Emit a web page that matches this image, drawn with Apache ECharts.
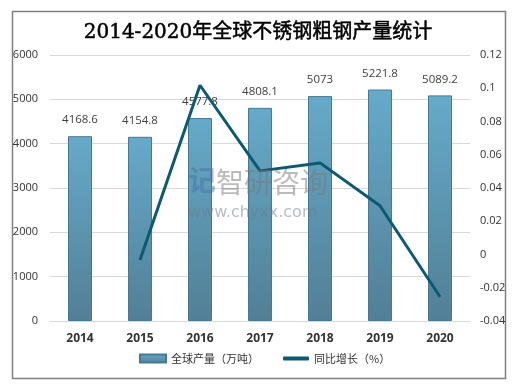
<!DOCTYPE html>
<html><head><meta charset="utf-8">
<script src="https://cdn.jsdelivr.net/npm/echarts@6/dist/echarts.min.js"></script>
<style>html,body{margin:0;padding:0;background:#fff}#c{width:516px;height:386px}</style>
</head><body><div id="c"></div>
<script>
var categories = ['2014','2015','2016','2017','2018','2019','2020'];
var production = [4168.6, 4154.8, 4577.8, 4808.1, 5073, 5221.8, 5089.2];
var growth = [null, -0.0033, 0.1018, 0.0503, 0.0551, 0.0293, -0.0254];
var leftTicks = [0, 1000, 2000, 3000, 4000, 5000, 6000];
var rightTicks = [-0.04, -0.02, 0, 0.02, 0.04, 0.06, 0.08, 0.1, 0.12];
var titleText = '2014-2020年全球不锈钢粗钢产量统计';
var seriesNames = ['全球产量（万吨）', '同比增长（%）'];

var legendText = {fontFamily: '"Noto Sans CJK SC"', fontSize: 11, color: '#333'};
var chart = echarts.init(document.getElementById('c'));
chart.setOption({
  animation: false,
  title: {
    text: titleText, left: 'center', top: 18,
    textStyle: {fontFamily: '"DejaVu Serif","Noto Sans CJK SC",serif', fontSize: 20, fontWeight: 'normal', color: '#000',
      textBorderColor: '#000', textBorderWidth: 0.5}
  },
  graphic: [
    {type: 'rect', shape: {x: 12.5, y: 11.5, width: 493, height: 367}, style: {fill: 'none', stroke: '#808080', lineWidth: 1.5}, silent: true},
    {type: 'text', left: 216, top: 168, style: {text: '智研咨询', fill: 'rgba(120,120,120,0.5)', font: '28px "Noto Sans CJK SC"'}, z: 100},
    {type: 'text', left: 188, top: 205, style: {text: 'www.chyxx.com', fill: 'rgba(110,120,140,0.5)', font: '16px "DejaVu Sans"'}, z: 100},
    {type: 'text', left: 188, top: 166, style: {text: '记', fill: 'rgba(70,110,160,0.45)', font: 'bold 28px "Noto Sans CJK SC"'}, z: 100}
  ],
  legend: [
    {left: 134, bottom: 17, itemWidth: 26, itemHeight: 8, textStyle: legendText,
     data: [{name: seriesNames[0], icon: 'rect'}]},
    {left: 278, bottom: 17, itemWidth: 26, itemHeight: 4, textStyle: legendText,
     data: [{name: seriesNames[1], icon: 'roundRect'}]}
  ],
  grid: {left: 50, right: 46, top: 55, bottom: 65},
  xAxis: {
    type: 'category', data: categories,
    axisLine: {lineStyle: {color: '#d9d9d9'}}, axisTick: {show: false},
    axisLabel: {fontFamily: '"Open Sans","DejaVu Sans"', fontWeight: 'bold', fontSize: 12, color: '#333', margin: 12}
  },
  yAxis: [
    {type: 'value', min: 0, max: 6000, interval: 1000,
     axisLine: {show: false}, axisTick: {show: false},
     splitLine: {lineStyle: {color: '#d9d9d9'}},
     axisLabel: {fontFamily: '"Open Sans","DejaVu Sans"', fontSize: 11, color: '#333', margin: 12,
       formatter: function(v){ return String(v); }}},
    {type: 'value', min: -0.04, max: 0.12, interval: 0.02,
     axisLine: {show: false}, axisTick: {show: false}, splitLine: {show: false},
     axisLabel: {fontFamily: '"Open Sans","DejaVu Sans"', fontSize: 11, color: '#333', margin: 10,
       formatter: function(v){ return String(Math.round(v*100)/100); }}}
  ],
  series: [
    {name: seriesNames[0], type: 'bar', data: production, barWidth: 24,
     itemStyle: {
       color: new echarts.graphic.LinearGradient(0,0,0,1,[{offset:0,color:'#66aac9'},{offset:1,color:'#527f95'}]),
       borderColor: '#467a92', borderWidth: 1
     },
     label: {show: true, position: 'top', distance: 10, color: '#404040', fontSize: 11.5, fontFamily: '"Open Sans","DejaVu Sans"'}},
    {name: seriesNames[1], type: 'line', yAxisIndex: 1, data: growth, symbol: 'none',
     lineStyle: {color: '#0c5a72', width: 3}, itemStyle: {color: '#0c5a72'}, z: 5}
  ]
});
</script></body></html>
